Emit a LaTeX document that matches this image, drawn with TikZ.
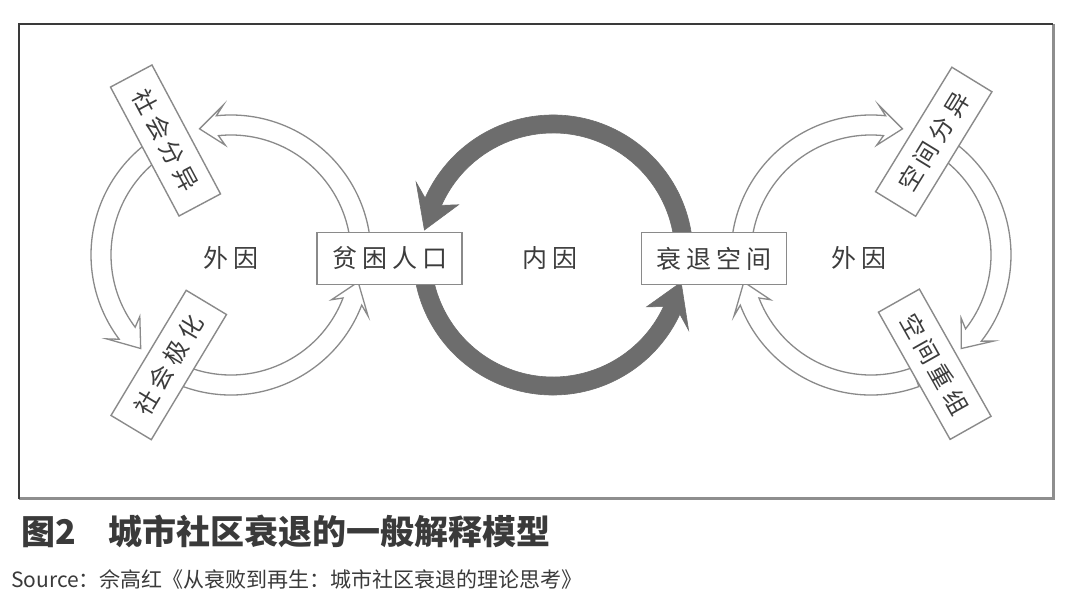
\documentclass[tikz,border=0pt]{standalone}
\usepackage{fontspec}
\setmainfont{Noto Sans CJK SC}
\definecolor{lineg}{HTML}{8A8A8A}
\definecolor{thickg}{HTML}{6D6D6D}
\definecolor{txt}{HTML}{3C3C3C}
\definecolor{frameg}{HTML}{3A3A3A}
\definecolor{shadowg}{HTML}{8E8E8E}
\newcommand\spc{\kern5pt}
% hollow arc arrow: #1 centre, #2 start, #3 head base, #4 barb angle, #5 tip
\newcommand\harrow[5]{%
  \filldraw[hollow,shift={(#1)}] (#2:140) arc[start angle=#2,end angle=#3,radius=140]
    -- (#4:150) -- (#5:130) -- (#4:110) -- (#3:120)
    arc[start angle=#3,end angle=#2,radius=120] -- cycle;}
% solid arc arrow
\newcommand\sarrow[5]{%
  \filldraw[solidarr,shift={(#1)}] (#2:140) arc[start angle=#2,end angle=#3,radius=140]
    -- (#4:155) -- (#5:131) -- (#4:107) -- (#3:122)
    arc[start angle=#3,end angle=#2,radius=122] -- cycle;}
\tikzset{
  hollow/.style={draw=lineg,fill=white,line width=1.3pt,line join=miter},
  solidarr/.style={draw=thickg,fill=thickg,line width=0.6pt},
  box/.style={draw=lineg,fill=white,line width=1.4pt,minimum width=145pt,minimum height=52pt,
    inner sep=0pt,text=txt,font=\fontsize{25}{25}\selectfont},
  rbox/.style={draw=lineg,fill=white,line width=1.4pt,minimum width=146pt,minimum height=47pt,
    inner sep=0pt,text=txt,font=\fontsize{24}{24}\selectfont},
  lab/.style={inner sep=0pt,text=txt,font=\fontsize{25}{25}\selectfont},
}
\begin{document}
\begin{tikzpicture}[x=1pt,y=1pt]
\useasboundingbox (0,0) rectangle (1080,596);
\fill[white] (0,0) rectangle (1080,596);
% frame
\draw[shadowg,line width=3pt] (19,97) -- (1053,97) -- (1053,572);
\draw[frameg,line width=2pt] (1053,572) -- (19,572) -- (19,97);
% centres
\coordinate (cL) at (231,341);
\coordinate (cM) at (553,341);
\coordinate (cR) at (871,341);
% left ring (counter-clockwise)
\harrow{cL}{5}{96}{93}{104}
\harrow{cL}{125}{217}{214}{226}
\harrow{cL}{250}{339}{336}{348}
% right ring (clockwise)
\harrow{cR}{175}{84}{87}{76}
\harrow{cR}{55}{-38}{-35}{-46}
\harrow{cR}{-70}{-159}{-156}{-168}
% central thick ring
\sarrow{cM}{8}{156}{152}{169}
\sarrow{cM}{190}{335}{331}{348}
% boxes
\node[box] (pk) at (389.5,337.5) {贫\spc{}困\spc{}人\spc{}口};
\node[box] (sk) at (714,337.5) {衰\spc{}退\spc{}空\spc{}间};
\node[rbox,rotate=-62] (fy) at (165.5,455.5) {社\spc{}会\spc{}分\spc{}异};
\node[rbox,rotate=59] (jh) at (168.75,231) {社\spc{}会\spc{}极\spc{}化};
\node[rbox,rotate=58.5] (kf) at (933.75,454.25) {空\spc{}间\spc{}分\spc{}异};
\node[rbox,rotate=-60.6] (kc) at (934.75,231.75) {空\spc{}间\spc{}重\spc{}组};
% labels
\node[lab] (wl) at (231,338) {外\spc{}因};
\node[lab] (nm) at (549.5,338) {内\spc{}因};
\node[lab] (wr) at (858.5,338) {外\spc{}因};
% caption
\node[anchor=west,inner sep=0pt,text=frameg,font=\bfseries\fontsize{34}{34}\selectfont] (title)
  at (21,65) {图2\hspace{33pt}城市社区衰退的一般解释模型};
\node[anchor=west,inner sep=0pt,text=frameg,font=\fontsize{21}{21}\selectfont] (src)
  at (11,17) {Source：佘高红《从衰败到再生：城市社区衰退的理论思考》};
\end{tikzpicture}
\end{document}
